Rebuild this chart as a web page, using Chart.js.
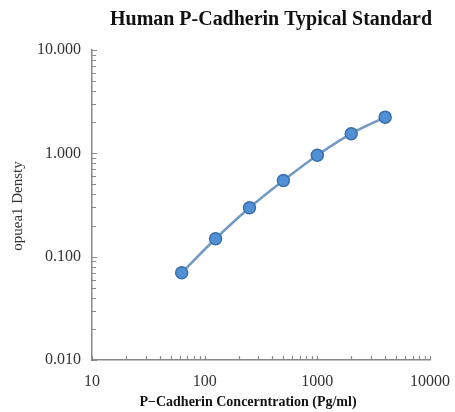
<!DOCTYPE html>
<html>
<head>
<meta charset="utf-8">
<script src="https://cdn.jsdelivr.net/npm/chart.js@4/dist/chart.umd.min.js"></script>
<style>
html,body{margin:0;padding:0;background:#fff;}
#wrap{width:455px;height:412px;position:relative;}
</style>
</head>
<body>
<div id="wrap"><canvas id="c" width="455" height="412"></canvas></div>
<script>
const titleText = "Human P-Cadherin Typical Standard";
const xTitle = "P\u2212Cadherin Concerntration (Pg/ml)";
const yTitle = "opuea1 Densty";
const concentrations = [62.5, 125, 250, 500, 1000, 2000, 4000];
const odValues = [0.070, 0.149, 0.297, 0.545, 0.957, 1.55, 2.24];
const xTickValues = [10, 100, 1000, 10000];
const xTickLabels = ["10", "100", "1000", "10000"];
const yTickValues = [0.01, 0.1, 1, 10];
const yTickLabels = ["0.010", "0.100", "1.000", "10.000"];

function logTicks(min, max) {
  const out = [];
  for (let d = min; d < max * 0.999; d *= 10) {
    for (let k = 1; k < 10; k++) out.push({value: +(d * k).toPrecision(6), major: k === 1});
  }
  out.push({value: max, major: true});
  return out;
}
function labelFor(vals, labels, v) {
  for (let i = 0; i < vals.length; i++) if (Math.abs(vals[i] - v) / vals[i] < 1e-6) return labels[i];
  return '';
}

const decor = {
  id: 'decor',
  afterDraw(chart) {
    const ctx = chart.ctx;
    const ca = chart.chartArea;
    const xs = chart.scales.x, ys = chart.scales.y;
    ctx.save();
    ctx.strokeStyle = '#8a8a8a';
    ctx.lineWidth = 1.2;
    ctx.beginPath();
    ys.ticks.forEach(t => {
      const p = Math.round(ys.getPixelForValue(t.value)) + 0.5;
      const len = t.major ? 5 : 4;
      ctx.moveTo(ca.left, p); ctx.lineTo(ca.left + len, p);
    });
    xs.ticks.forEach(t => {
      const p = Math.round(xs.getPixelForValue(t.value)) + 0.5;
      ctx.moveTo(p, ca.bottom); ctx.lineTo(p, ca.bottom - 4);
    });
    ctx.stroke();
    ctx.fillStyle = '#111';
    ctx.textAlign = 'center';
    ctx.textBaseline = 'middle';
    ctx.font = 'bold 20px "Liberation Serif", serif';
    ctx.fillText(titleText, 271, 20, 322);
    ctx.font = 'bold 14px "Liberation Serif", serif';
    ctx.fillText(xTitle, 248, 402, 256);
    ctx.fillStyle = '#333';
    ctx.font = '15px "Liberation Serif", serif';
    ctx.translate(18, 206);
    ctx.rotate(-Math.PI / 2);
    ctx.fillText(yTitle, 0, 0);
    ctx.restore();
  }
};

new Chart(document.getElementById('c'), {
  type: 'line',
  data: {
    datasets: [{
      data: concentrations.map((x, i) => ({x: x, y: odValues[i]})),
      borderColor: '#7199c4',
      borderWidth: 2.5,
      tension: 0.3,
      cubicInterpolationMode: 'monotone',
      pointRadius: 6,
      pointBackgroundColor: '#5090d6',
      pointBorderColor: '#3b6ea8',
      pointBorderWidth: 1.5,
      fill: false
    }]
  },
  options: {
    responsive: false,
    animation: false,
    layout: {padding: {top: 50, right: 25, left: 0, bottom: 0}},
    plugins: {legend: {display: false}, title: {display: false}, tooltip: {enabled: false}},
    scales: {
      x: {
        type: 'logarithmic',
        min: 10, max: 10000,
        afterBuildTicks: s => { s.ticks = logTicks(10, 10000); },
        afterFit: s => { s.height = 52; s.paddingLeft = 0; s.paddingRight = 0; },
        grid: {display: false, drawTicks: false},
        border: {color: '#8a8a8a', width: 1.5},
        ticks: {
          autoSkip: false, maxRotation: 0, padding: 12,
          color: '#333',
          font: {family: '"Liberation Serif", serif', size: 16},
          callback: v => labelFor(xTickValues, xTickLabels, v)
        }
      },
      y: {
        type: 'logarithmic',
        min: 0.01, max: 10,
        afterBuildTicks: s => { s.ticks = logTicks(0.01, 10); },
        afterFit: s => { s.width = 92; s.paddingTop = 0; s.paddingBottom = 0; },
        grid: {display: false, drawTicks: false},
        border: {color: '#8a8a8a', width: 1.5},
        ticks: {
          autoSkip: false, padding: 11,
          color: '#333',
          font: {family: '"Liberation Serif", serif', size: 16},
          callback: v => labelFor(yTickValues, yTickLabels, v)
        }
      }
    }
  },
  plugins: [decor]
});
</script>
</body>
</html>
